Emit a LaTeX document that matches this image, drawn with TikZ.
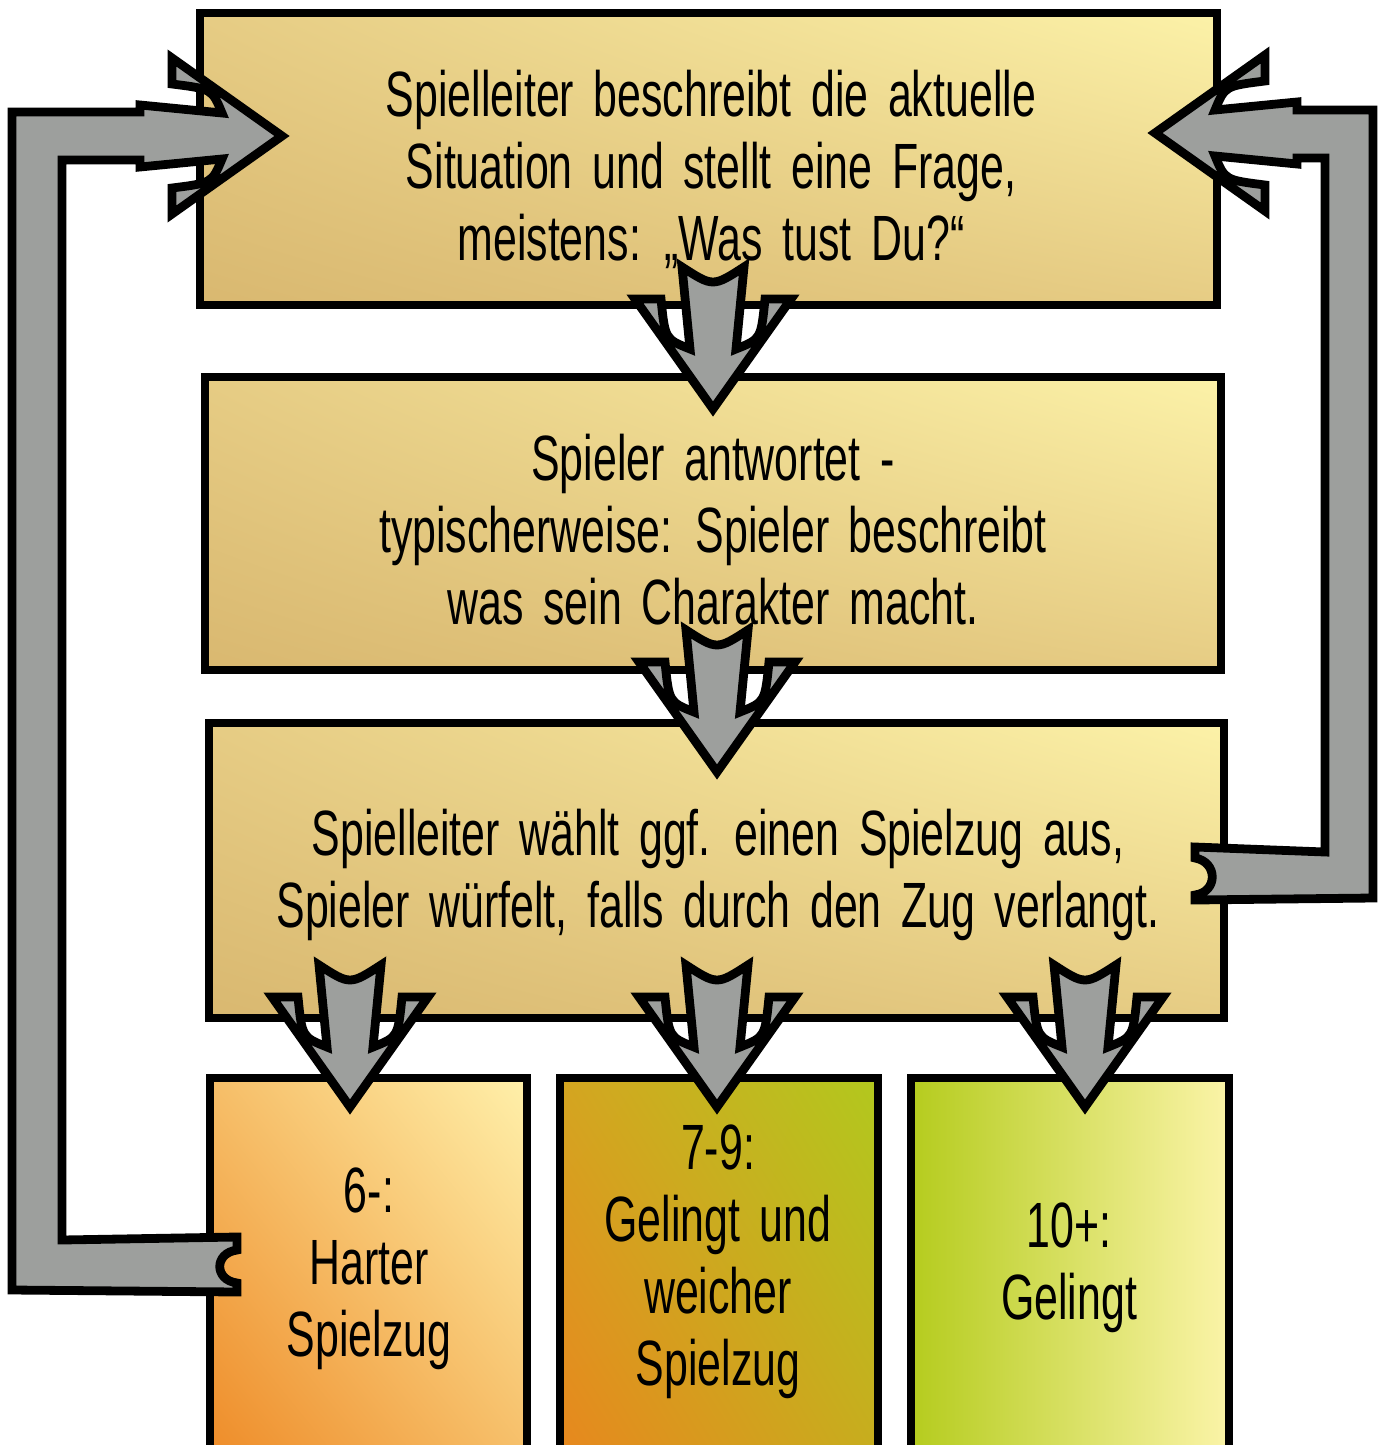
\documentclass[tikz,border=0pt]{standalone}
\usepackage{fontspec}
\usetikzlibrary{shadings}
\setmainfont[FakeStretch=0.67,WordSpace=1.65]{Liberation Sans}
\definecolor{arrgray}{HTML}{9D9F9D}
\definecolor{tanLL}{HTML}{D9B870}
\definecolor{tanMid}{HTML}{E6CC84}
\definecolor{tanUR}{HTML}{FCF2A8}
\definecolor{orLL}{HTML}{EE8A26}
\definecolor{orMid}{HTML}{F6BE68}
\definecolor{orUR}{HTML}{FFF0AA}
\definecolor{goLL}{HTML}{E8861E}
\definecolor{goUL}{HTML}{D4A520}
\definecolor{goLR}{HTML}{C8AC1E}
\definecolor{goUR}{HTML}{B2C81E}
\definecolor{grL}{HTML}{B5CC1E}
\definecolor{grR}{HTML}{FBF4A8}
\newcommand\dnarrowpath{(0,0) -- (78,-110) -- (52,-110) .. controls (48,-70) .. (23,-60) -- (31,-142) .. controls (0,-122) .. (-31,-142) -- (-23,-60) .. controls (-48,-70) .. (-52,-110) -- (-78,-110) -- cycle}
\begin{document}
\begin{tikzpicture}[x=0.5pt,y=-0.5pt,
  boxline/.style={draw=black, line width=3.8pt},
  arr/.style={draw=black, fill=arrgray, line width=4.4pt, line join=miter, miter limit=10},
  txt/.style={align=center, inner sep=0pt, font=\fontsize{32pt}{36pt}\selectfont}]
\useasboundingbox (0,0) rectangle (1383,1445);
\clip (0,0) rectangle (1383,1445);
% boxes
\shadedraw[boxline, lower left=tanLL, upper right=tanUR, upper left=tanMid, lower right=tanMid] (200,13) rectangle (1217,305);
\shadedraw[boxline, lower left=tanLL, upper right=tanUR, upper left=tanMid, lower right=tanMid] (205,377) rectangle (1221,670);
\shadedraw[boxline, lower left=tanLL, upper right=tanUR, upper left=tanMid, lower right=tanMid] (209,723) rectangle (1224,1018);
\shadedraw[boxline, lower left=orLL, upper right=orUR, upper left=orMid, lower right=orMid] (210,1078) rectangle (527,1470);
\shadedraw[boxline, lower left=goLL, upper right=goUR, upper left=goUL, lower right=goLR] (560,1078) rectangle (878,1470);
\shadedraw[boxline, left color=grL, right color=grR] (911,1078) rectangle (1229,1470);
% texts
\node[txt] (t1) at (711,169) {Spielleiter beschreibt die aktuelle\\Situation und stellt eine Frage,\\meistens: „Was tust Du?“};
\node[txt] (t2) at (713,530) {Spieler antwortet -\\typischerweise: Spieler beschreibt\\was sein Charakter macht.};
\node[txt] (t3) at (718,875) {Spielleiter wählt ggf. einen Spielzug aus,\\Spieler würfelt, falls durch den Zug verlangt.};
\node[txt] (t4) at (369,1269) {6-:\\Harter\\Spielzug};
\node[txt] (t5) at (718,1262) {7-9:\\Gelingt und\\weicher\\Spielzug};
\node[txt] (t6) at (1069,1268) {10+:\\Gelingt};
% down arrows
\begin{scope}[shift={(713,409)}]\draw[arr] \dnarrowpath;\end{scope}
\begin{scope}[shift={(717,772)}]\draw[arr] \dnarrowpath;\end{scope}
\begin{scope}[shift={(350,1107)}]\draw[arr] \dnarrowpath;\end{scope}
\begin{scope}[shift={(717,1107)}]\draw[arr] \dnarrowpath;\end{scope}
\begin{scope}[shift={(1085,1107)}]\draw[arr] \dnarrowpath;\end{scope}
% left loop arrow
\draw[arr] (237,1237) -- (62,1240) -- (62,160) -- (140,160) -- (140,167) -- (222,159)
  .. controls (212,183) .. (172,188) -- (172,214) -- (282,136) -- (172,58) -- (172,84)
  .. controls (212,89) .. (222,113) -- (140,105) -- (140,112) -- (12,112) -- (12,1290)
  -- (237,1292) -- (237,1283) .. controls (214,1280) and (214,1253) .. (237,1250) -- cycle;
% right loop arrow
\draw[arr] (1195,847) -- (1325,852) -- (1325,158) -- (1297,158) -- (1297,164) -- (1215,156)
  .. controls (1225,180) .. (1265,185) -- (1265,211) -- (1155,133) -- (1265,55) -- (1265,81)
  .. controls (1225,86) .. (1215,110) -- (1297,102) -- (1297,110) -- (1373,110) -- (1373,898)
  -- (1195,900) -- (1195,895) .. controls (1218,892) and (1218,862) .. (1195,858) -- cycle;
\end{tikzpicture}
\end{document}
